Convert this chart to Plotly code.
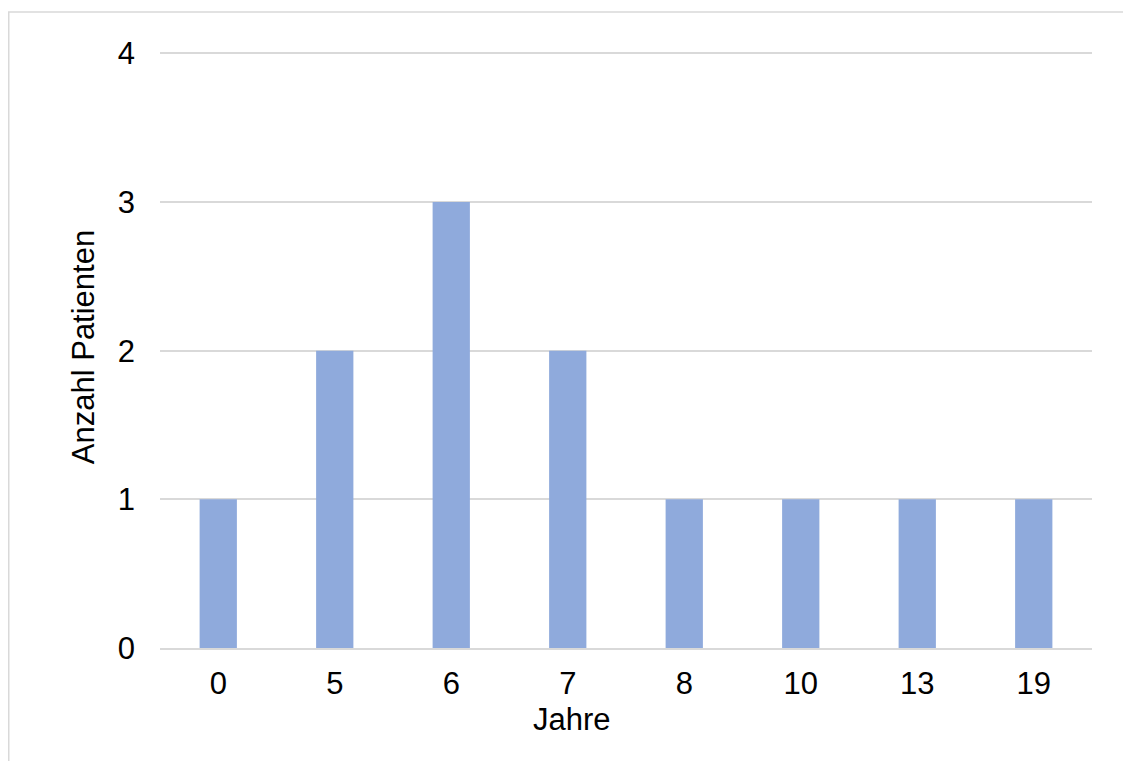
import plotly.graph_objects as go

categories = ["0", "5", "6", "7", "8", "10", "13", "19"]
patients = [1, 2, 3, 2, 1, 1, 1, 1]
y_ticks = [0, 1, 2, 3, 4]
y_max = 4.05

# page body has an 8px margin, so figure coords = page coords - 8
W, H = 1131, 761
pw = 932
unit = 595 / 4            # pixels per patient
ph = unit * y_max
L = 152
T = 45 - unit * (y_max - 4)
R = W - L - pw
B = H - T - ph

fig = go.Figure(go.Bar(x=categories, y=patients, marker_color="#8FAADC",
                       marker_line_width=0))

font = dict(family="Liberation Sans, Arial", size=31, color="#000000")
fig.update_layout(
    width=W, height=H,
    margin=dict(l=L, r=R, t=T, b=B),
    paper_bgcolor="white", plot_bgcolor="white",
    bargap=0.68,
    font=font,
    showlegend=False,
    xaxis=dict(type="category", showgrid=False, showline=True, linecolor="#D9D9D9",
               linewidth=1.5, ticks="", tickfont=font, ticklabelstandoff=7),
    yaxis=dict(range=[0, y_max], tickvals=y_ticks, showgrid=True, gridcolor="#D9D9D9",
               gridwidth=1.5, zeroline=False, showline=False, ticks="",
               tickfont=font, ticklabelstandoff=24,
               title=dict(text="Anzahl Patienten", font=font, standoff=13)),
    annotations=[dict(text="Jahre", xref="paper", yref="paper",
                      x=(572 - 160) / pw, y=0, xanchor="center", yanchor="middle",
                      yshift=-71, showarrow=False, font=font)],
    shapes=[dict(type="rect", xref="paper", yref="paper",
                 x0=(0.75 - L) / pw, x1=(W + 5 - L) / pw,
                 y0=(H - B - (H + 5)) / ph, y1=(H - B - 3.5) / ph,
                 line=dict(color="#D9D9D9", width=1.5), layer="below")],
)

fig.write_html("out.html")
